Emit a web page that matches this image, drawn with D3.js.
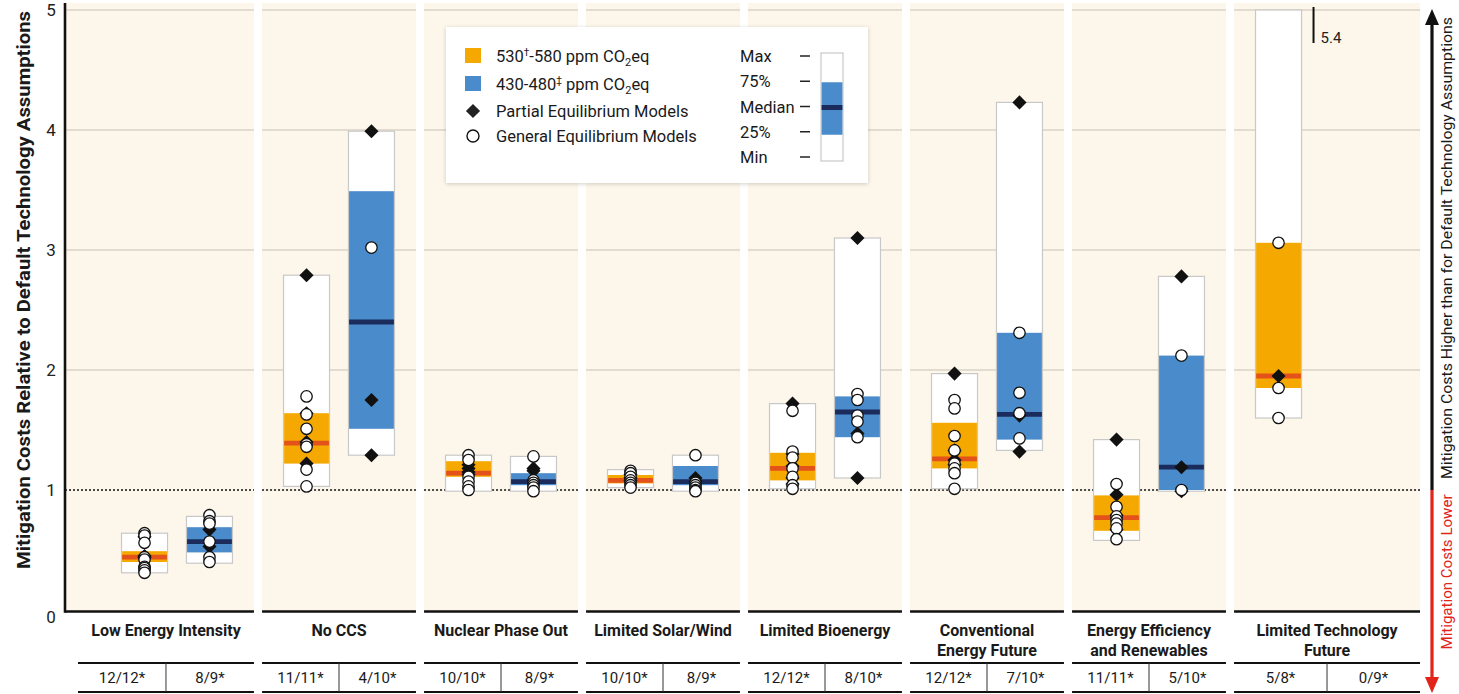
<!DOCTYPE html>
<html><head><meta charset="utf-8">
<script src="https://cdn.jsdelivr.net/npm/d3@7"></script>
<style>
body{margin:0;background:#fff;}
svg{display:block;font-family:Roboto,"Open Sans","DejaVu Sans",sans-serif;}
</style></head><body>
<svg id="chart" width="1459" height="694"></svg>
<script>
// ---------------- DATA ----------------
const categories = ["Low Energy Intensity","No CCS","Nuclear Phase Out","Limited Solar/Wind",
  "Limited Bioenergy","Conventional Energy Future","Energy Efficiency and Renewables","Limited Technology Future"];
const categoryLabels = [["Low Energy Intensity"],["No CCS"],["Nuclear Phase Out"],["Limited Solar/Wind"],
  ["Limited Bioenergy"],["Conventional","Energy Future"],["Energy Efficiency","and Renewables"],["Limited Technology","Future"]];
const scenarios = ["530-580","430-480"];
// [min, 25%, median, 75%, max]
const stats530 = [
  [0.31,0.40,0.44,0.49,0.64],
  [1.03,1.22,1.39,1.64,2.79],
  [0.99,1.11,1.14,1.24,1.29],
  [1.02,1.055,1.08,1.125,1.17],
  [1.01,1.08,1.18,1.31,1.72],
  [1.01,1.18,1.26,1.56,1.97],
  [0.58,0.66,0.77,0.955,1.42],
  [1.60,1.85,1.95,3.06,5.4]
];
const stats430 = [
  [0.39,0.48,0.57,0.69,0.78],
  [1.29,1.51,2.40,3.49,3.99],
  [0.99,1.04,1.07,1.14,1.28],
  [0.99,1.04,1.07,1.20,1.29],
  [1.10,1.44,1.65,1.78,3.10],
  [1.33,1.42,1.63,2.31,4.23],
  [0.99,1.00,1.19,2.12,2.78],
  null
];
const partial530 = [
  [0.61,0.44,0.45],
  [2.79,1.64,1.40,1.22],
  [1.21,1.18,1.15,1.13],
  [1.13,1.10,1.08],
  [1.72,1.30,1.20,1.10,1.05],
  [1.97,1.33,1.25,1.21],
  [1.42,0.96,0.79,0.67],
  [1.95]
];
const general530 = [
  [0.64,0.62,0.56,0.44,0.42,0.36,0.35,0.33,0.31],
  [1.78,1.63,1.51,1.38,1.36,1.17,1.03],
  [1.29,1.25,1.11,1.07,1.03,1.00],
  [1.16,1.14,1.11,1.08,1.06,1.04,1.02],
  [1.66,1.32,1.27,1.18,1.11,1.04,1.01],
  [1.75,1.68,1.45,1.33,1.22,1.18,1.14,1.01],
  [1.05,0.86,0.78,0.75,0.72,0.68,0.59],
  [3.06,1.85,1.60]
];
const partial430 = [
  [0.67,0.53],
  [3.99,1.75,1.29],
  [1.18,1.16],
  [1.10,1.07],
  [3.10,1.47,1.10],
  [4.23,1.62,1.32],
  [2.78,1.19,0.99],
  []
];
const general430 = [
  [0.79,0.74,0.72,0.57,0.44,0.40],
  [3.02],
  [1.28,1.08,1.06,1.04,1.02,0.99],
  [1.29,1.06,1.04,1.02,1.00,0.99],
  [1.80,1.75,1.62,1.57,1.44],
  [2.31,1.81,1.64,1.43],
  [2.12,1.00],
  []
];
const counts530 = ["12/12*","11/11*","10/10*","10/10*","12/12*","12/12*","11/11*","5/8*"];
const counts430 = ["8/9*","4/10*","8/9*","8/9*","8/10*","7/10*","5/10*","0/9*"];
const yTicks = [0,1,2,3,4,5];
const legendRows = ["Max","75%","Median","25%","Min"];

// ---------------- STYLE / LAYOUT ----------------
const C = {
  cream:"#fdf6ea", grid:"#d9d2c6",
  fill530:"#f5a800", med530:"#e4521b",
  fill430:"#4a8bcb", med430:"#1b2b5c",
  red:"#e2231a"
};
const svg = d3.select("#chart");
const y = d3.scaleLinear().domain([0,5]).range([610,10]);
const x = d3.scaleBand().domain(categories).range([96,1392]).paddingInner(0.05).paddingOuter(0.025);
const bw = x.bandwidth();
const sub = d3.scalePoint().domain(scenarios).range([0,bw]).padding(0.685);
const boxW = 46;

const n = categories.length;
const bgLeft = i => i===0 ? 65 : x(categories[i]);
const tblLeft = i => i===0 ? 78 : x(categories[i]);
const right = i => i===n-1 ? 1420 : x(categories[i]) + bw;
const mid = i => (tblLeft(i)+right(i))/2;

// panels
const panels = svg.append("g").selectAll("g").data(categories).join("g");
panels.append("rect")
  .attr("x",(d,i)=>bgLeft(i)).attr("y",3)
  .attr("width",(d,i)=>right(i)-bgLeft(i)).attr("height",y(0)+2-3)
  .attr("fill",C.cream);
yTicks.filter(t=>t>=2).forEach(t=>{
  panels.append("line")
    .attr("x1",(d,i)=>bgLeft(i)).attr("x2",(d,i)=>right(i))
    .attr("y1",y(t)).attr("y2",y(t))
    .attr("stroke",C.grid).attr("stroke-width",1.5);
});
panels.append("line")
  .attr("x1",(d,i)=>bgLeft(i)).attr("x2",(d,i)=>right(i))
  .attr("y1",y(1)).attr("y2",y(1))
  .attr("stroke","#111").attr("stroke-width",1.6).attr("stroke-dasharray","2,2");
panels.append("line")
  .attr("x1",(d,i)=>bgLeft(i)).attr("x2",(d,i)=>right(i))
  .attr("y1",y(0)+1.5).attr("y2",y(0)+1.5)
  .attr("stroke","#111").attr("stroke-width",2.6);

// y axis
svg.append("line").attr("x1",65).attr("x2",65).attr("y1",3).attr("y2",y(0)+2.8)
  .attr("stroke","#111").attr("stroke-width",2.6);
svg.append("g").selectAll("text").data(yTicks).join("text")
  .attr("x",51).attr("y",d=>y(d)+(d===0?7:0)).attr("dy","0.35em")
  .attr("text-anchor","middle").attr("font-size",17).attr("fill","#222").text(d=>d);
svg.append("text").attr("transform","translate(30,290) rotate(-90)")
  .attr("text-anchor","middle").attr("font-size",19).attr("font-weight",700).attr("fill","#1a1a1a")
  .attr("textLength",558).attr("lengthAdjust","spacingAndGlyphs")
  .text("Mitigation Costs Relative to Default Technology Assumptions");

// boxes
const diamond = d3.symbol().type(d3.symbolSquare).size(100);
function drawBox(parent, cx, s, partial, general, fill, med){
  const g = parent.append("g");
  const top = Math.min(s[4],5);
  g.append("rect").attr("x",cx-boxW/2).attr("y",y(top)).attr("width",boxW).attr("height",y(s[0])-y(top))
    .attr("fill","#fff").attr("stroke","#c8c8c8").attr("stroke-width",1.2);
  g.append("rect").attr("x",cx-boxW/2+0.6).attr("y",y(s[3])).attr("width",boxW-1.2).attr("height",y(s[1])-y(s[3]))
    .attr("fill",fill);
  g.append("line").attr("x1",cx-boxW/2+0.6).attr("x2",cx+boxW/2-0.6).attr("y1",y(s[2])).attr("y2",y(s[2]))
    .attr("stroke",med).attr("stroke-width",4.8);
  g.append("g").selectAll("path").data(partial.filter(v=>v<=5)).join("path")
    .attr("d",diamond).attr("transform",v=>`translate(${cx},${y(v)}) rotate(45)`).attr("fill","#111");
  g.append("g").selectAll("circle").data(general.filter(v=>v<=5)).join("circle")
    .attr("cx",cx).attr("cy",v=>y(v)).attr("r",5.7)
    .attr("fill","#fff").attr("stroke","#111").attr("stroke-width",1.3);
}
categories.forEach((c,i)=>{
  const g = svg.append("g");
  if(stats530[i]) drawBox(g, x(c)+sub(scenarios[0]), stats530[i], partial530[i], general530[i], C.fill530, C.med530);
  if(stats430[i]) drawBox(g, x(c)+sub(scenarios[1]), stats430[i], partial430[i], general430[i], C.fill430, C.med430);
  if(stats530[i] && stats530[i][4]>5){
    const ax = x(c)+sub(scenarios[0])+35;
    g.append("line").attr("x1",ax).attr("x2",ax).attr("y1",y(5)-3).attr("y2",y(5)+33)
      .attr("stroke","#111").attr("stroke-width",2);
    g.append("text").attr("x",ax+7).attr("y",y(5)+33).attr("font-size",15).attr("fill","#222")
      .text(stats530[i][4]);
  }
});

// category labels + counts table
categories.forEach((c,i)=>{
  const t = svg.append("text").attr("text-anchor","middle").attr("font-size",16).attr("font-weight",700).attr("fill","#1a1a1a");
  categoryLabels[i].forEach((line,k)=>{
    t.append("tspan").attr("x",mid(i)).attr("y",636+k*20).text(line);
  });
  svg.append("line").attr("x1",tblLeft(i)).attr("x2",right(i)).attr("y1",663).attr("y2",663).attr("stroke","#111").attr("stroke-width",2.2);
  svg.append("line").attr("x1",tblLeft(i)).attr("x2",right(i)).attr("y1",692).attr("y2",692).attr("stroke","#111").attr("stroke-width",2.2);
  svg.append("line").attr("x1",mid(i)).attr("x2",mid(i)).attr("y1",663).attr("y2",692).attr("stroke","#333").attr("stroke-width",1);
  svg.append("text").attr("x",(tblLeft(i)+mid(i))/2).attr("y",683).attr("text-anchor","middle").attr("font-size",15).attr("fill","#1a1a1a").text(counts530[i]);
  svg.append("text").attr("x",(mid(i)+right(i))/2).attr("y",683).attr("text-anchor","middle").attr("font-size",15).attr("fill","#1a1a1a").text(counts430[i]);
});

// right-hand arrow
const ax = 1432;
svg.append("line").attr("x1",ax).attr("x2",ax).attr("y1",20).attr("y2",y(1)).attr("stroke","#111").attr("stroke-width",3.2);
svg.append("line").attr("x1",ax).attr("x2",ax).attr("y1",y(1)).attr("y2",682).attr("stroke",C.red).attr("stroke-width",3.2);
svg.append("path").attr("d",`M${ax},9 L${ax-7},25 L${ax+7},25 Z`).attr("fill","#111");
svg.append("path").attr("d",`M${ax},693 L${ax-7},677 L${ax+7},677 Z`).attr("fill",C.red);
svg.append("text").attr("transform",`translate(1452,248) rotate(-90)`).attr("text-anchor","middle")
  .attr("font-size",15).attr("fill","#1a1a1a").attr("textLength",462).attr("lengthAdjust","spacingAndGlyphs")
  .text("Mitigation Costs Higher than for Default Technology Assumptions");
svg.append("text").attr("transform",`translate(1452,572) rotate(-90)`).attr("text-anchor","middle")
  .attr("font-size",15).attr("fill",C.red).attr("textLength",155).attr("lengthAdjust","spacingAndGlyphs")
  .text("Mitigation Costs Lower");

// legend
const defs = svg.append("defs");
const f = defs.append("filter").attr("id","sh").attr("x","-5%").attr("y","-5%").attr("width","110%").attr("height","115%");
f.append("feDropShadow").attr("dx",0).attr("dy",1).attr("stdDeviation",2).attr("flood-color","#000").attr("flood-opacity",0.18);
const L = svg.append("g");
L.append("rect").attr("x",446).attr("y",27).attr("width",422).attr("height",156).attr("fill","#fff").attr("filter","url(#sh)");
L.append("rect").attr("x",465).attr("y",48).attr("width",16).attr("height",15).attr("fill",C.fill530);
L.append("rect").attr("x",465).attr("y",76).attr("width",16).attr("height",15).attr("fill",C.fill430);
L.append("path").attr("d",diamond).attr("transform","translate(473,111) rotate(45)").attr("fill","#222");
L.append("circle").attr("cx",473).attr("cy",136).attr("r",6).attr("fill","#fff").attr("stroke","#111").attr("stroke-width",1.4);
const lt = (yy)=>L.append("text").attr("x",496).attr("y",yy).attr("font-size",16.5).attr("fill","#1a1a1a");
let t1 = lt(62);
t1.append("tspan").text("530");
t1.append("tspan").attr("font-size",10).attr("dy",-6).text("†");
t1.append("tspan").attr("dy",6).text("-580 ppm CO");
t1.append("tspan").attr("font-size",11).attr("dy",4).text("2");
t1.append("tspan").attr("dy",-4).text("eq");
let t2 = lt(90);
t2.append("tspan").text("430-480");
t2.append("tspan").attr("font-size",10).attr("dy",-6).text("‡");
t2.append("tspan").attr("dy",6).text(" ppm CO");
t2.append("tspan").attr("font-size",11).attr("dy",4).text("2");
t2.append("tspan").attr("dy",-4).text("eq");
lt(117).text("Partial Equilibrium Models");
lt(142).text("General Equilibrium Models");
const ly = d3.scalePoint().domain(legendRows).range([56,157]);
L.selectAll("text.lr").data(legendRows).join("text").attr("class","lr")
  .attr("x",740).attr("y",d=>ly(d)+6).attr("font-size",16.5).attr("fill","#1a1a1a").text(d=>d);
L.selectAll("line.ld").data(legendRows).join("line").attr("class","ld")
  .attr("x1",800).attr("x2",810).attr("y1",d=>ly(d)).attr("y2",d=>ly(d)).attr("stroke","#222").attr("stroke-width",1.5);
L.append("rect").attr("x",821).attr("y",ly("Max")-3).attr("width",22).attr("height",ly("Min")-ly("Max")+7)
  .attr("fill","#fff").attr("stroke","#c8c8c8").attr("stroke-width",1.2);
L.append("rect").attr("x",821.6).attr("y",ly("75%")+1).attr("width",20.8).attr("height",ly("25%")-ly("75%")+2).attr("fill",C.fill430);
L.append("line").attr("x1",821.6).attr("x2",842.4).attr("y1",ly("Median")+1).attr("y2",ly("Median")+1).attr("stroke",C.med430).attr("stroke-width",5);
</script>
</body></html>
